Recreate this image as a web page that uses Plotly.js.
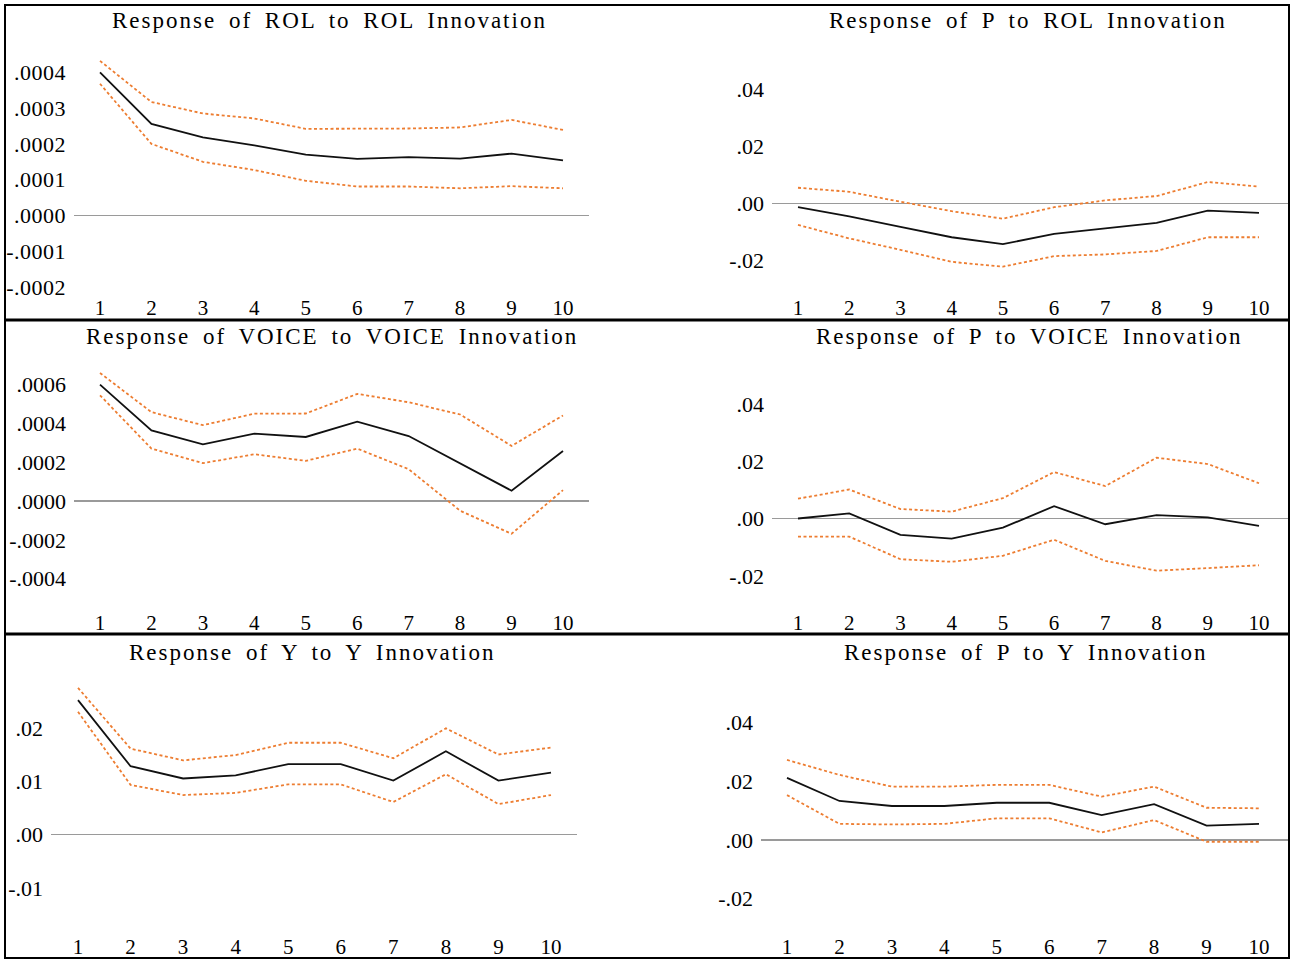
<!DOCTYPE html>
<html>
<head>
<meta charset="utf-8">
<script src="https://cdn.plot.ly/plotly-3.0.1.min.js"></script>
<style>
html,body{margin:0;padding:0;background:#fff;}
#chart{width:1294px;height:961px;}
.annotation-text{letter-spacing:2px;word-spacing:5px;}
.ytick text{letter-spacing:0.5px;}
</style>
</head>
<body>
<div id="chart"></div>
<script>
// ---------- data ----------
const periods = [1, 2, 3, 4, 5, 6, 7, 8, 9, 10];
const xTickLabels = ["1", "2", "3", "4", "5", "6", "7", "8", "9", "10"];

const panelTitles = [
  "Response of ROL to ROL Innovation",
  "Response of P to ROL Innovation",
  "Response of VOICE to VOICE Innovation",
  "Response of P to VOICE Innovation",
  "Response of Y to Y Innovation",
  "Response of P to Y Innovation"
];

// Response of ROL to ROL
const rolRolResp  = [0.000400, 0.000256, 0.000218, 0.000196, 0.000170, 0.000158, 0.000163, 0.000159, 0.000173, 0.000154];
const rolRolUpper = [0.000432, 0.000317, 0.000285, 0.000271, 0.000242, 0.000242, 0.000243, 0.000246, 0.000267, 0.000239];
const rolRolLower = [0.000368, 0.000200, 0.000150, 0.000127, 0.000097, 0.000081, 0.000081, 0.000076, 0.000082, 0.000076];

// Response of P to ROL
const pRolResp  = [-0.0013, -0.0045, -0.0082, -0.0118, -0.0142, -0.0106, -0.0087, -0.0068, -0.0025, -0.0033];
const pRolUpper = [0.0055, 0.0041, 0.0006, -0.0027, -0.0053, -0.0013, 0.0011, 0.0026, 0.0075, 0.0059];
const pRolLower = [-0.0075, -0.0122, -0.0162, -0.0204, -0.0221, -0.0184, -0.0178, -0.0166, -0.0118, -0.0118];

// Response of VOICE to VOICE
const voiceResp  = [0.000600, 0.000364, 0.000292, 0.000347, 0.000330, 0.000409, 0.000335, 0.000195, 0.000053, 0.000258];
const voiceUpper = [0.000660, 0.000458, 0.000391, 0.000450, 0.000451, 0.000552, 0.000509, 0.000446, 0.000284, 0.000441];
const voiceLower = [0.000545, 0.000270, 0.000195, 0.000241, 0.000207, 0.000270, 0.000164, -0.000050, -0.000169, 0.000056];

// Response of P to VOICE
const pVoiceResp  = [0.0000, 0.0018, -0.0057, -0.0070, -0.0032, 0.0043, -0.0020, 0.0012, 0.0004, -0.0026];
const pVoiceUpper = [0.0069, 0.0101, 0.0033, 0.0024, 0.0071, 0.0162, 0.0113, 0.0212, 0.0190, 0.0123];
const pVoiceLower = [-0.0063, -0.0063, -0.0142, -0.0151, -0.0130, -0.0074, -0.0148, -0.0182, -0.0173, -0.0163];

// Response of Y to Y
const yYResp  = [0.0252, 0.0128, 0.0105, 0.0111, 0.0132, 0.0132, 0.0101, 0.0156, 0.0101, 0.0116];
const yYUpper = [0.0275, 0.0161, 0.0139, 0.0149, 0.0172, 0.0172, 0.0143, 0.0199, 0.0150, 0.0163];
const yYLower = [0.0230, 0.0093, 0.0074, 0.0078, 0.0094, 0.0094, 0.0061, 0.0113, 0.0057, 0.0074];

// Response of P to Y
const pYResp  = [0.0212, 0.0133, 0.0116, 0.0116, 0.0127, 0.0127, 0.0085, 0.0122, 0.0049, 0.0055];
const pYUpper = [0.0273, 0.0222, 0.0182, 0.0182, 0.0188, 0.0188, 0.0148, 0.0182, 0.0110, 0.0108];
const pYLower = [0.0153, 0.0055, 0.0053, 0.0055, 0.0074, 0.0074, 0.0026, 0.0068, -0.0006, -0.0006];

// y tick values and labels
const rolTickVals = [0.0004, 0.0003, 0.0002, 0.0001, 0, -0.0001, -0.0002];
const rolTickText = [".0004", ".0003", ".0002", ".0001", ".0000", "-.0001", "-.0002"];
const voiceTickVals = [0.0006, 0.0004, 0.0002, 0, -0.0002, -0.0004];
const voiceTickText = [".0006", ".0004", ".0002", ".0000", "-.0002", "-.0004"];
const pTickVals = [0.04, 0.02, 0, -0.02];
const pTickText = [".04", ".02", ".00", "-.02"];
const yTickVals = [0.02, 0.01, 0, -0.01];
const yTickText = [".02", ".01", ".00", "-.01"];

// ---------- layout helpers ----------
const W = 1294, H = 961;
const FONT = "'Liberation Serif', 'Times New Roman', serif";
const ORANGE = "#ED7D31";

function px2x(p){ return p / W; }
function px2y(p){ return 1 - p / H; }

const panels = [
  {resp: rolRolResp, up: rolRolUpper, lo: rolRolLower, tv: rolTickVals, tt: rolTickText,
   x1: 100, x10: 563, left: 74, right: 589, zero: 215.5, ppu: 358000, top: 50, bot: 293, titleX: 330, titleY: 21},
  {resp: pRolResp, up: pRolUpper, lo: pRolLower, tv: pTickVals, tt: pTickText,
   x1: 798, x10: 1259, left: 772, right: 1288, zero: 203.5, ppu: 2860, top: 50, bot: 293, titleX: 1028, titleY: 21},
  {resp: voiceResp, up: voiceUpper, lo: voiceLower, tv: voiceTickVals, tt: voiceTickText,
   x1: 100, x10: 563, left: 74, right: 589, zero: 501, ppu: 194000, top: 365, bot: 608, titleX: 332, titleY: 337},
  {resp: pVoiceResp, up: pVoiceUpper, lo: pVoiceLower, tv: pTickVals, tt: pTickText,
   x1: 798, x10: 1259, left: 772, right: 1288, zero: 518.5, ppu: 2867, top: 365, bot: 608, titleX: 1029, titleY: 337},
  {resp: yYResp, up: yYUpper, lo: yYLower, tv: yTickVals, tt: yTickText,
   x1: 78, x10: 551, left: 51, right: 577, zero: 834.5, ppu: 5333, top: 680, bot: 932, titleX: 312, titleY: 652},
  {resp: pYResp, up: pYUpper, lo: pYLower, tv: pTickVals, tt: pTickText,
   x1: 787, x10: 1259, left: 761, right: 1288, zero: 840, ppu: 2933, top: 680, bot: 932, titleX: 1025, titleY: 652}
];

const traces = [];
const layout = {
  width: W, height: H,
  margin: {l: 0, r: 0, t: 0, b: 0, pad: 0},
  paper_bgcolor: "#fff", plot_bgcolor: "rgba(0,0,0,0)",
  showlegend: false,
  font: {family: FONT, size: 21, color: "#000"},
  annotations: [], shapes: []
};

panels.forEach((p, i) => {
  const n = i + 1;
  const xa = n === 1 ? "x" : "x" + n;
  const ya = n === 1 ? "y" : "y" + n;
  const step = (p.x10 - p.x1) / 9;
  const xr = [1 + (p.left - p.x1) / step, 1 + (p.right - p.x1) / step];
  const yr = [(p.zero - p.bot) / p.ppu, (p.zero - p.top) / p.ppu];

  layout[n === 1 ? "xaxis" : "xaxis" + n] = {
    domain: [px2x(p.left), px2x(p.right)], range: xr, anchor: ya,
    showgrid: false, zeroline: false, showline: false, ticks: "",
    tickmode: "array", tickvals: periods, ticktext: xTickLabels,
    tickfont: {family: FONT, size: 21, color: "#000"}, fixedrange: true
  };
  layout[n === 1 ? "yaxis" : "yaxis" + n] = {
    domain: [px2y(p.bot), px2y(p.top)], range: yr, anchor: xa,
    showgrid: false, zeroline: true, zerolinecolor: "#9a9a9a", zerolinewidth: 1.5,
    showline: false, ticks: "", ticklabelstandoff: 7,
    tickmode: "array", tickvals: p.tv, ticktext: p.tt,
    tickfont: {family: FONT, size: 22, color: "#000"}, fixedrange: true
  };

  traces.push({x: periods, y: p.up, xaxis: xa, yaxis: ya, type: "scatter", mode: "lines",
    line: {color: ORANGE, width: 1.8, dash: "3px,2.5px"}, hoverinfo: "skip"});
  traces.push({x: periods, y: p.lo, xaxis: xa, yaxis: ya, type: "scatter", mode: "lines",
    line: {color: ORANGE, width: 1.8, dash: "3px,2.5px"}, hoverinfo: "skip"});
  traces.push({x: periods, y: p.resp, xaxis: xa, yaxis: ya, type: "scatter", mode: "lines",
    line: {color: "#111", width: 1.8}, hoverinfo: "skip"});

  layout.annotations.push({
    text: panelTitles[i], xref: "paper", yref: "paper",
    x: px2x(p.titleX), y: px2y(p.titleY), xanchor: "center", yanchor: "middle",
    showarrow: false, align: "center",
    font: {family: FONT, size: 23, color: "#000"}
  });
});

layout.shapes.push({type: "rect", xref: "paper", yref: "paper",
  x0: px2x(5), x1: px2x(1289), y0: px2y(5), y1: px2y(958),
  line: {color: "#000", width: 2}, layer: "above"});
[320, 634].forEach(py => layout.shapes.push({type: "line", xref: "paper", yref: "paper",
  x0: px2x(5), x1: px2x(1289), y0: px2y(py), y1: px2y(py),
  line: {color: "#000", width: 3}, layer: "above"}));

Plotly.newPlot("chart", traces, layout, {staticPlot: true, displayModeBar: false});
</script>
</body>
</html>
